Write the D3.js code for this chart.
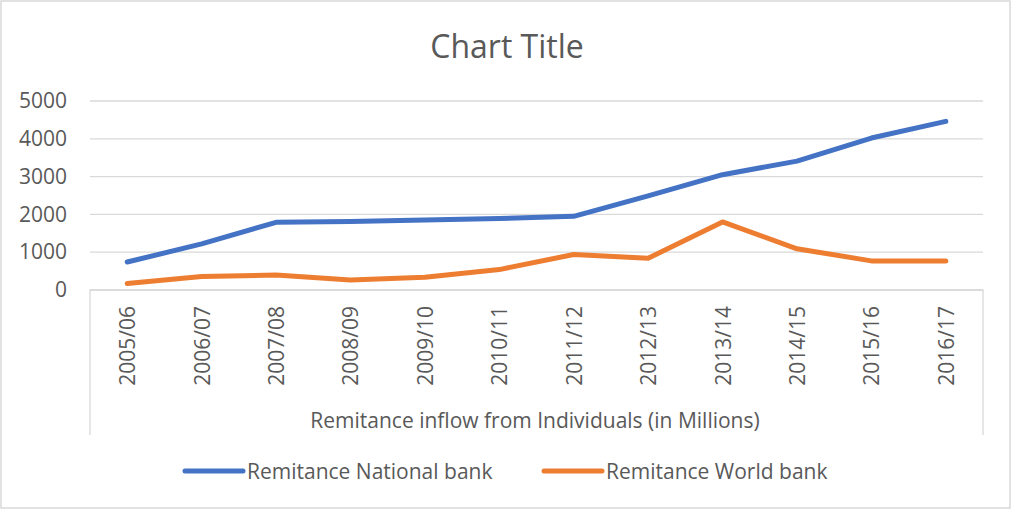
<!DOCTYPE html>
<html>
<head>
<meta charset="utf-8">
<script src="https://cdn.jsdelivr.net/npm/d3@7"></script>
<style>
  body { margin: 0; background: #fff; }
  text { font-family: "Open Sans", sans-serif; fill: #595959; }
</style>
</head>
<body>
<div id="chart"></div>
<script>
// categories (fiscal years)
var years = ["2005/06", "2006/07", "2007/08", "2008/09", "2009/10", "2010/11",
             "2011/12", "2012/13", "2013/14", "2014/15", "2015/16", "2016/17"];
// values
var nationalBank = [740, 1220, 1790, 1810, 1850, 1890, 1950, 2490, 3050, 3410, 4020, 4460];
var worldBank = [170, 360, 395, 265, 340, 540, 940, 840, 1800, 1090, 770, 770];
var yTicks = [0, 1000, 2000, 3000, 4000, 5000];
var seriesNames = ["Remitance National bank", "Remitance World bank"];
var colors = ["#4472C4", "#ED7D31"];

var width = 1012, height = 510;
var plot = {left: 90, right: 983, top: 101, bottom: 290, axisBottom: 435};
var fontSize = "21px";

var svg = d3.select("#chart").append("svg").attr("width", width).attr("height", height);

// outer chart border
svg.append("rect").attr("x", 1).attr("y", 1).attr("width", 1009).attr("height", 507)
    .attr("fill", "#fff").attr("stroke", "#d9d9d9").attr("stroke-width", 1.5);

svg.append("text").attr("x", 507).attr("y", 58).attr("text-anchor", "middle")
    .style("font-size", "32px").text("Chart Title");

var x = d3.scaleBand().domain(years).range([plot.left, plot.right]);
var y = d3.scaleLinear().domain([0, 5000]).range([plot.bottom, plot.top]);

// gridlines + y labels
var g = svg.append("g");
g.selectAll(".grid").data(yTicks).enter().append("line")
    .attr("x1", plot.left).attr("x2", plot.right)
    .attr("y1", function (d) { return y(d); }).attr("y2", function (d) { return y(d); })
    .attr("stroke", "#d9d9d9").attr("stroke-width", 1.3);

g.append("g").attr("transform", "translate(" + (plot.left - 23) + ",0)")
    .call(d3.axisLeft(y).tickValues(yTicks).tickFormat(d3.format("d")).tickSize(0).tickPadding(0))
    .call(function (a) { a.select(".domain").remove(); })
    .selectAll("text").style("font-size", fontSize).attr("fill", "#595959")
    .style("font-family", "'Open Sans', sans-serif");

// category axis box (excel style)
g.append("path")
    .attr("d", "M" + plot.left + "," + plot.axisBottom + "V" + plot.bottom + "H" + plot.right + "V" + plot.axisBottom)
    .attr("fill", "none").attr("stroke", "#d9d9d9").attr("stroke-width", 1.3);

g.selectAll(".cat").data(years).enter().append("text")
    .attr("transform", function (d) {
        return "translate(" + (x(d) + x.bandwidth() / 2 + 8) + ",306) rotate(-90)";
    })
    .attr("text-anchor", "end").style("font-size", fontSize).text(function (d) { return d; });

svg.append("text").attr("x", 535).attr("y", 428).attr("text-anchor", "middle")
    .style("font-size", fontSize).text("Remitance inflow from Individuals (in Millions)");

// lines
var line = d3.line()
    .x(function (d, i) { return x(years[i]) + x.bandwidth() / 2; })
    .y(function (d) { return y(d); });

[nationalBank, worldBank].forEach(function (vals, i) {
    g.append("path").datum(vals).attr("d", line)
        .attr("fill", "none").attr("stroke", colors[i]).attr("stroke-width", 5)
        .attr("stroke-linecap", "round").attr("stroke-linejoin", "round");
});

// legend
var legendX = [185, 544];
var legend = svg.selectAll(".legend").data(seriesNames).enter().append("g")
    .attr("transform", function (d, i) { return "translate(" + legendX[i] + ",471)"; });
legend.append("line").attr("x1", 0).attr("x2", 58).attr("y1", 0).attr("y2", 0)
    .attr("stroke", function (d, i) { return colors[i]; }).attr("stroke-width", 5)
    .attr("stroke-linecap", "round");
legend.append("text").attr("x", 62).attr("y", 8).style("font-size", fontSize)
    .text(function (d) { return d; });
</script>
</body>
</html>
